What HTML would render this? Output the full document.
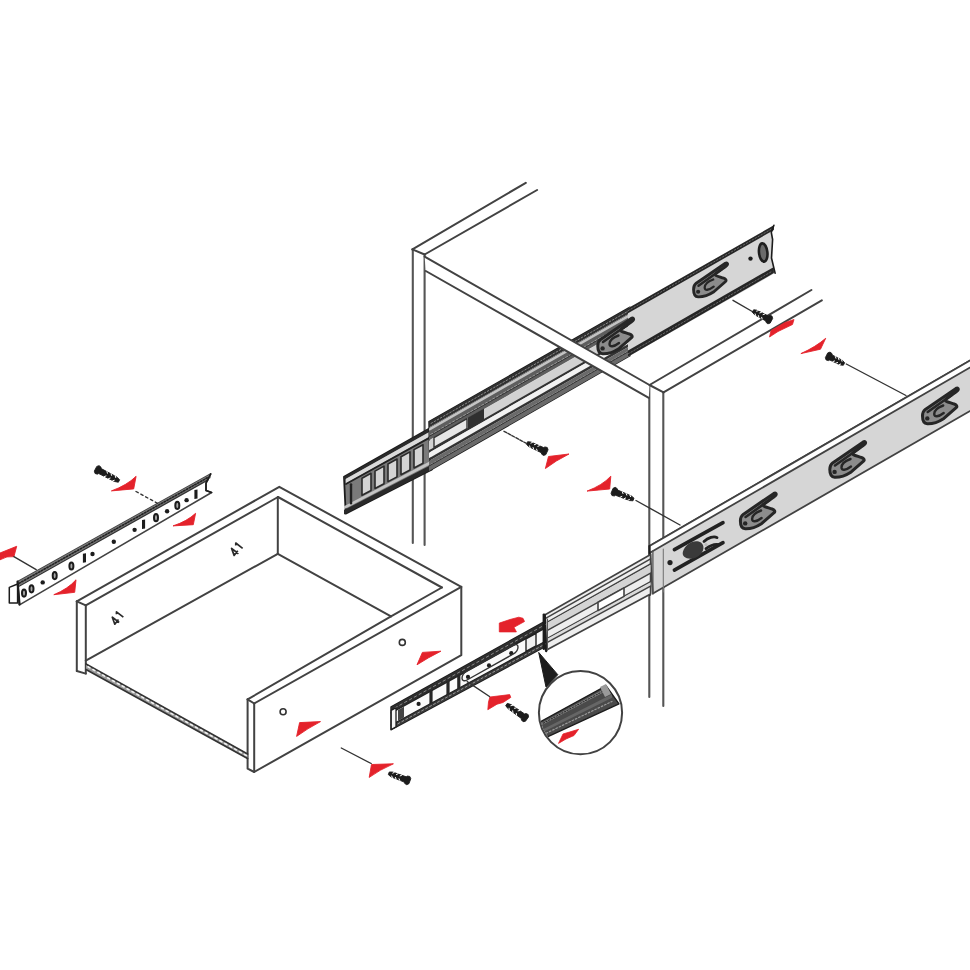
<!DOCTYPE html>
<html><head><meta charset="utf-8"><style>
html,body{margin:0;padding:0;background:#fff;}
svg{display:block;}
</style></head><body>
<svg width="970" height="970" viewBox="0 0 970 970">

<rect width="970" height="970" fill="#fff"/>
<g>
<line x1="412.8" y1="249.5" x2="412.8" y2="543" stroke="#555" stroke-width="2.1" stroke-linecap="round" />
<line x1="424.6" y1="254.5" x2="424.6" y2="545" stroke="#555" stroke-width="2.1" stroke-linecap="round" />
<line x1="412.4" y1="249.4" x2="525.8" y2="182.8" stroke="#424242" stroke-width="2.0" stroke-linecap="round" />
<line x1="424.6" y1="254.5" x2="537.1" y2="190" stroke="#424242" stroke-width="2.0" stroke-linecap="round" />
<line x1="412.4" y1="249.4" x2="424.6" y2="254.5" stroke="#424242" stroke-width="2.0" stroke-linecap="round" />
<line x1="649.3" y1="385" x2="649.3" y2="697" stroke="#555" stroke-width="2.1" stroke-linecap="round" />
<line x1="663.3" y1="392.4" x2="663.3" y2="706" stroke="#555" stroke-width="2.1" stroke-linecap="round" />
<line x1="649.5" y1="385" x2="811.4" y2="290" stroke="#424242" stroke-width="2.0" stroke-linecap="round" />
<line x1="663.5" y1="392.4" x2="821.8" y2="300.3" stroke="#424242" stroke-width="2.0" stroke-linecap="round" />
<polygon points="344,476.9 432,427 432,469.5 345.7,513.63" fill="#7a7a7a" stroke="#1c1c1c" stroke-width="1.8" stroke-linejoin="round" />
<polygon points="344,476.9 432,427 432,430.4 344,479.91" fill="#2a2a2a" stroke="none" stroke-width="1.2" stroke-linejoin="round" />
<polygon points="346,478.78 432,430.4 432,435.5 346,483.31" fill="#dadada" stroke="none" stroke-width="1.2" stroke-linejoin="round" />
<line x1="346" y1="484.06" x2="432" y2="436.35" stroke="#222" stroke-width="1.8" stroke-linecap="round" />
<polygon points="362,478.27 371,473.32 371,490.53 362,495.26" fill="#d4d4d4" stroke="#2a2a2a" stroke-width="1.6" stroke-linejoin="round" />
<polygon points="375,471.12 384,466.17 384,483.69 375,488.42" fill="#d4d4d4" stroke="#2a2a2a" stroke-width="1.6" stroke-linejoin="round" />
<polygon points="388,463.96 397,459.01 397,476.85 388,481.59" fill="#d4d4d4" stroke="#2a2a2a" stroke-width="1.6" stroke-linejoin="round" />
<polygon points="401,456.81 410,451.86 410,470.02 401,474.75" fill="#d4d4d4" stroke="#2a2a2a" stroke-width="1.6" stroke-linejoin="round" />
<polygon points="414,449.66 423,444.7 423,463.18 414,467.92" fill="#d4d4d4" stroke="#2a2a2a" stroke-width="1.6" stroke-linejoin="round" />
<polygon points="344,506.23 432,460.15 432,463.55 344,509.24" fill="#c4c4c4" stroke="none" stroke-width="1.2" stroke-linejoin="round" />
<polygon points="344,509.99 432,464.4 432,469.5 344,514.5" fill="#2a2a2a" stroke="none" stroke-width="1.2" stroke-linejoin="round" />
<line x1="351" y1="484.33" x2="351" y2="503.32" stroke="#222" stroke-width="2.4" stroke-linecap="round" />
<polygon points="429,421.6 630,307.2 630,355.67 430,470.43" fill="#e0e0e0" stroke="#1c1c1c" stroke-width="1.5" stroke-linejoin="round" />
<polygon points="429,421.6 630,307.2 630,313.02 429,427.53" fill="#303030" stroke="none" stroke-width="1.2" stroke-linejoin="round" />
<line x1="431" y1="423.43" x2="630" y2="310.11" stroke="#8a8a8a" stroke-width="1.0" stroke-linecap="round" stroke-dasharray="1.62,1.98" stroke-linecap="butt"/>
<polygon points="429,427.53 630,313.02 630,313.99 429,428.52" fill="#6a6a6a" stroke="none" stroke-width="1.2" stroke-linejoin="round" />
<polygon points="429,428.52 630,313.99 630,316.41 429,430.99" fill="#c4c4c4" stroke="none" stroke-width="1.2" stroke-linejoin="round" />
<polygon points="429,430.99 630,316.41 630,325.62 429,440.37" fill="#5e5e5e" stroke="none" stroke-width="1.2" stroke-linejoin="round" />
<line x1="431" y1="434.54" x2="630" y2="321.01" stroke="#a0a0a0" stroke-width="1.3" stroke-linecap="round" stroke-dasharray="1.89,2.31" stroke-linecap="butt"/>
<line x1="429" y1="436.42" x2="630" y2="321.74" stroke="#333" stroke-width="1.0" stroke-linecap="round" />
<polygon points="429,440.87 630,326.1 630,335.31 429,450.25" fill="#d2d2d2" stroke="none" stroke-width="1.2" stroke-linejoin="round" />
<polygon points="429,450.25 630,335.31 630,337.74 429,452.72" fill="#333" stroke="none" stroke-width="1.2" stroke-linejoin="round" />
<polygon points="429,452.72 630,337.74 630,343.07 429,458.16" fill="#f2f2f2" stroke="none" stroke-width="1.2" stroke-linejoin="round" />
<polygon points="429,458.16 630,343.07 630,345.97 429,461.12" fill="#333" stroke="none" stroke-width="1.2" stroke-linejoin="round" />
<polygon points="429,461.12 630,345.97 630,355.67 429,471" fill="#6a6a6a" stroke="none" stroke-width="1.2" stroke-linejoin="round" />
<line x1="431" y1="464.42" x2="630" y2="350.34" stroke="#9a9a9a" stroke-width="1.2" stroke-linecap="round" stroke-dasharray="1.8,2.2" stroke-linecap="butt"/>
<line x1="429" y1="466.06" x2="630" y2="350.82" stroke="#333" stroke-width="1.0" stroke-linecap="round" />
<polygon points="468,417.61 484,408.48 484,419.78 468,428.93" fill="#303030" stroke="none" stroke-width="1.5" stroke-linejoin="round" />
<polygon points="434,437.52 467,418.68 467,428.52 434,447.39" fill="#e6e6e6" stroke="#333" stroke-width="1.4" stroke-linejoin="round" />
<polygon points="628,308.34 773.9,225.3 771.3,232.4 772.6,239.5 771.5,258 775.1,273.1 628,356.82" fill="#d6d6d6" stroke="none" stroke-width="1.5" stroke-linejoin="round" />
<polygon points="628,308.34 773.9,225.3 773.9,230.08 628,313.19" fill="#262626" stroke="none" stroke-width="1.2" stroke-linejoin="round" />
<line x1="628" y1="310.76" x2="771.9" y2="228.83" stroke="#7a7a7a" stroke-width="0.8" stroke-linecap="round" stroke-dasharray="1.53,1.87" stroke-linecap="butt"/>
<polygon points="628,350.51 773.9,266.89 773.9,273.1 628,356.82" fill="#262626" stroke="none" stroke-width="1.2" stroke-linejoin="round" />
<line x1="628" y1="353.91" x2="771.9" y2="271.38" stroke="#7a7a7a" stroke-width="0.8" stroke-linecap="round" stroke-dasharray="1.53,1.87" stroke-linecap="butt"/>
<ellipse cx="763.2" cy="252.5" rx="4.2" ry="9.2" transform="rotate(-6 763.2 252.5)" fill="#6a6a6a" stroke="#1e1e1e" stroke-width="2.6"/>
<circle cx="750.5" cy="258.6" r="2.2" fill="#1c1c1c" stroke="none" stroke-width="0"/>
<polyline points="773.9,225.3 771.3,232.4 772.6,239.5 771.5,258 775.1,273.1" fill="none" stroke="#1c1c1c" stroke-width="1.6" stroke-linejoin="round" stroke-linecap="round" />
<g transform="translate(692.8,289.5) scale(0.95)"><path d="M0.8,0 C0.8,-3 1.8,-5.2 3.6,-6.6 L34.3,-27.6 C36,-28.6 37.4,-26.8 36.1,-25.7 L33.8,-23.6 L24.5,-17 C23,-16 23.5,-14.8 25.5,-14.2 C28,-13.5 30.5,-12.5 32.5,-12 C35,-11.3 35.8,-9.2 34.5,-8.4 L22.2,2.4 C16,6.4 10,8 5.6,7.8 C2.4,7.6 0.8,4.2 0.8,0 Z" fill="#8c8c8c" stroke="#262626" stroke-width="3" stroke-linejoin="round"/><path d="M6,-4 L30,-21" stroke="#262626" stroke-width="2.6" stroke-linecap="round"/><path d="M21.5,-10.5 C16,-8.5 12.5,-5.5 12.5,-2 C12.5,1.2 16.5,1.2 22,-3" fill="none" stroke="#262626" stroke-width="2.4" stroke-linecap="round"/><circle cx="5.6" cy="2.4" r="2.2" fill="#262626"/></g>
<g transform="translate(597,346) scale(1.0)"><path d="M0.8,0 C0.8,-3 1.8,-5.2 3.6,-6.6 L34.3,-27.6 C36,-28.6 37.4,-26.8 36.1,-25.7 L33.8,-23.6 L24.5,-17 C23,-16 23.5,-14.8 25.5,-14.2 C28,-13.5 30.5,-12.5 32.5,-12 C35,-11.3 35.8,-9.2 34.5,-8.4 L22.2,2.4 C16,6.4 10,8 5.6,7.8 C2.4,7.6 0.8,4.2 0.8,0 Z" fill="#8c8c8c" stroke="#262626" stroke-width="3" stroke-linejoin="round"/><path d="M6,-4 L30,-21" stroke="#262626" stroke-width="2.6" stroke-linecap="round"/><path d="M21.5,-10.5 C16,-8.5 12.5,-5.5 12.5,-2 C12.5,1.2 16.5,1.2 22,-3" fill="none" stroke="#262626" stroke-width="2.4" stroke-linecap="round"/><circle cx="5.6" cy="2.4" r="2.2" fill="#262626"/></g>
<polygon points="424.6,256.6 649.5,385 648.8,397.8 425.8,271" fill="#ffffff" stroke="none" stroke-width="1.5" stroke-linejoin="round" />
<line x1="424.6" y1="256.6" x2="649.5" y2="385" stroke="#424242" stroke-width="2.0" stroke-linecap="round" />
<line x1="425.8" y1="271" x2="648.8" y2="397.8" stroke="#424242" stroke-width="2.0" stroke-linecap="round" />
<line x1="649.5" y1="385" x2="663.5" y2="392.4" stroke="#424242" stroke-width="2.0" stroke-linecap="round" />
<polygon points="649.5,546 985,351.82 985,402.37 652.9,593.54" fill="#d6d6d6" stroke="#424242" stroke-width="1.8" stroke-linejoin="round" />
<polygon points="649.5,546 985,351.82 985,358.89 649.5,552.93" fill="#ffffff" stroke="#424242" stroke-width="1.8" stroke-linejoin="round" />
<line x1="649.5" y1="546" x2="649.8" y2="595" stroke="#1c1c1c" stroke-width="2.0" stroke-linecap="round" />
<line x1="652.9" y1="551" x2="652.9" y2="594" stroke="#555" stroke-width="1.3" stroke-linecap="round" />
<line x1="663.3" y1="549" x2="663.3" y2="592" stroke="#777" stroke-width="1.1" stroke-linecap="round" />
<g transform="translate(739.6,521) scale(1.0)"><path d="M0.8,0 C0.8,-3 1.8,-5.2 3.6,-6.6 L34.3,-27.6 C36,-28.6 37.4,-26.8 36.1,-25.7 L33.8,-23.6 L24.5,-17 C23,-16 23.5,-14.8 25.5,-14.2 C28,-13.5 30.5,-12.5 32.5,-12 C35,-11.3 35.8,-9.2 34.5,-8.4 L22.2,2.4 C16,6.4 10,8 5.6,7.8 C2.4,7.6 0.8,4.2 0.8,0 Z" fill="#8c8c8c" stroke="#262626" stroke-width="3" stroke-linejoin="round"/><path d="M6,-4 L30,-21" stroke="#262626" stroke-width="2.6" stroke-linecap="round"/><path d="M21.5,-10.5 C16,-8.5 12.5,-5.5 12.5,-2 C12.5,1.2 16.5,1.2 22,-3" fill="none" stroke="#262626" stroke-width="2.4" stroke-linecap="round"/><circle cx="5.6" cy="2.4" r="2.2" fill="#262626"/></g>
<g transform="translate(829,469.5) scale(1.0)"><path d="M0.8,0 C0.8,-3 1.8,-5.2 3.6,-6.6 L34.3,-27.6 C36,-28.6 37.4,-26.8 36.1,-25.7 L33.8,-23.6 L24.5,-17 C23,-16 23.5,-14.8 25.5,-14.2 C28,-13.5 30.5,-12.5 32.5,-12 C35,-11.3 35.8,-9.2 34.5,-8.4 L22.2,2.4 C16,6.4 10,8 5.6,7.8 C2.4,7.6 0.8,4.2 0.8,0 Z" fill="#8c8c8c" stroke="#262626" stroke-width="3" stroke-linejoin="round"/><path d="M6,-4 L30,-21" stroke="#262626" stroke-width="2.6" stroke-linecap="round"/><path d="M21.5,-10.5 C16,-8.5 12.5,-5.5 12.5,-2 C12.5,1.2 16.5,1.2 22,-3" fill="none" stroke="#262626" stroke-width="2.4" stroke-linecap="round"/><circle cx="5.6" cy="2.4" r="2.2" fill="#262626"/></g>
<g transform="translate(921.7,416) scale(1.0)"><path d="M0.8,0 C0.8,-3 1.8,-5.2 3.6,-6.6 L34.3,-27.6 C36,-28.6 37.4,-26.8 36.1,-25.7 L33.8,-23.6 L24.5,-17 C23,-16 23.5,-14.8 25.5,-14.2 C28,-13.5 30.5,-12.5 32.5,-12 C35,-11.3 35.8,-9.2 34.5,-8.4 L22.2,2.4 C16,6.4 10,8 5.6,7.8 C2.4,7.6 0.8,4.2 0.8,0 Z" fill="#8c8c8c" stroke="#262626" stroke-width="3" stroke-linejoin="round"/><path d="M6,-4 L30,-21" stroke="#262626" stroke-width="2.6" stroke-linecap="round"/><path d="M21.5,-10.5 C16,-8.5 12.5,-5.5 12.5,-2 C12.5,1.2 16.5,1.2 22,-3" fill="none" stroke="#262626" stroke-width="2.4" stroke-linecap="round"/><circle cx="5.6" cy="2.4" r="2.2" fill="#262626"/></g>
<g transform="translate(670,562.6) scale(1.0)"><path d="M4.4,-13 L53,-40" stroke="#222" stroke-width="3.6" stroke-linecap="round" fill="none"/><path d="M4.4,7.5 L53,-20" stroke="#222" stroke-width="3.6" stroke-linecap="round" fill="none"/><path d="M13,-11 C15,-19 25,-24 31,-20 C36,-16 33,-8 26,-5 C19,-2 11,-5 13,-11 Z" fill="#3a3a3a"/><path d="M34,-21 C38,-25 44,-27 47,-25 M36,-14 C40,-17 45,-19 49,-18" stroke="#222" stroke-width="2.8" stroke-linecap="round" fill="none"/><circle cx="0" cy="0" r="2.6" fill="#222"/><circle cx="36" cy="-18" r="1.6" fill="#bbb"/></g>
<polygon points="544.7,615 650.6,554.5 650.6,594 546.1,650.25" fill="#eeeeee" stroke="#424242" stroke-width="1.7" stroke-linejoin="round" />
<line x1="544.7" y1="618.96" x2="650.6" y2="558.85" stroke="#424242" stroke-width="1.5" stroke-linecap="round" />
<line x1="547.4" y1="622.12" x2="650.6" y2="563.98" stroke="#424242" stroke-width="1.5" stroke-linecap="round" />
<polygon points="547.4,622.84 650.6,564.77 650.6,572.67 547.4,630.06" fill="#d4d4d4" stroke="none" stroke-width="1.2" stroke-linejoin="round" />
<line x1="547.4" y1="630.42" x2="650.6" y2="573.07" stroke="#424242" stroke-width="1.5" stroke-linecap="round" />
<line x1="547.4" y1="638.36" x2="650.6" y2="581.75" stroke="#424242" stroke-width="1.5" stroke-linecap="round" />
<polygon points="547.4,638.72 650.6,582.15 650.6,585.71 547.4,641.97" fill="#dadada" stroke="none" stroke-width="1.2" stroke-linejoin="round" />
<line x1="547.4" y1="642.33" x2="650.6" y2="586.1" stroke="#424242" stroke-width="1.5" stroke-linecap="round" />
<polygon points="598,602.3 624,587.85 624,596.34 598,610.61" fill="#fff" stroke="#424242" stroke-width="1.6" stroke-linejoin="round" />
<line x1="544.7" y1="615" x2="546.1" y2="651" stroke="#1c1c1c" stroke-width="2.4" stroke-linecap="round" />
<line x1="547.4" y1="619" x2="547.4" y2="650" stroke="#555" stroke-width="1.2" stroke-linecap="round" />
<polygon points="391.2,707 545,621.5 545,646.5 391.2,729.5" fill="#fafafa" stroke="#1c1c1c" stroke-width="1.8" stroke-linejoin="round" />
<polygon points="391.2,707 545,621.5 545,628 391.2,712.85" fill="#2e2e2e" stroke="none" stroke-width="1.2" stroke-linejoin="round" />
<line x1="395" y1="707.82" x2="545" y2="624.75" stroke="#8a8a8a" stroke-width="1.0" stroke-linecap="round" stroke-dasharray="2.48,3.02" stroke-linecap="butt"/>
<line x1="391.2" y1="712.85" x2="545" y2="628" stroke="#222" stroke-width="1.5" stroke-linecap="round" />
<polygon points="391.2,725 545,641.5 545,646.5 391.2,729.5" fill="#3a3a3a" stroke="none" stroke-width="1.2" stroke-linejoin="round" />
<line x1="394" y1="725.85" x2="545" y2="644.12" stroke="#999" stroke-width="1.0" stroke-linecap="round" stroke-dasharray="2.02,2.48" stroke-linecap="butt"/>
<line x1="391.2" y1="725" x2="545" y2="641.5" stroke="#222" stroke-width="1.4" stroke-linecap="round" />
<polygon points="429.4,691.54 432.6,689.78 432.6,702.99 429.4,704.72" fill="#262626" stroke="none" stroke-width="1.5" stroke-linejoin="round" />
<polygon points="446.4,682.16 449.6,680.4 449.6,693.76 446.4,695.5" fill="#262626" stroke="none" stroke-width="1.5" stroke-linejoin="round" />
<polygon points="457.2,676.2 460.4,674.44 460.4,687.9 457.2,689.64" fill="#262626" stroke="none" stroke-width="1.5" stroke-linejoin="round" />
<circle cx="418.6" cy="703.93" r="2.1" fill="#1c1c1c" stroke="none" stroke-width="0"/>
<circle cx="468" cy="676.89" r="2.1" fill="#1c1c1c" stroke="none" stroke-width="0"/>
<circle cx="489" cy="665.4" r="2.1" fill="#1c1c1c" stroke="none" stroke-width="0"/>
<circle cx="511.3" cy="653.19" r="2.1" fill="#1c1c1c" stroke="none" stroke-width="0"/>
<g transform="matrix(1,-0.56,0,1,0,0)"><rect x="462" y="932.52" width="56" height="8.99" rx="5" fill="none" stroke="#333" stroke-width="1.4" vector-effect="non-scaling-stroke"/></g>
<polygon points="391.2,710.38 396,707.72 396,726.91 391.2,729.5" fill="#f4f4f4" stroke="#1c1c1c" stroke-width="1.3" stroke-linejoin="round" />
<polygon points="398,710 404,706.7 404,717.6 398,720.86" fill="#444" stroke="none" stroke-width="1.5" stroke-linejoin="round" />
<polygon points="526,638.98 536,633.46 536,645.89 526,651.32" fill="#f0f0f0" stroke="#222" stroke-width="1.4" stroke-linejoin="round" />
<line x1="543.8" y1="614.6" x2="543.8" y2="648.7" stroke="#1c1c1c" stroke-width="2.4" stroke-linecap="round" />
<polygon points="538.7,652.4 557.8,674.7 546,687" fill="#1c1c1c" stroke="#1c1c1c" stroke-width="1" stroke-linejoin="round" />
<circle cx="580.5" cy="712.7" r="41.6" fill="#fff" stroke="#424242" stroke-width="2.0"/>
<clipPath id="mc"><circle cx="580.5" cy="712.7" r="40.6"/></clipPath>
<g clip-path="url(#mc)">
<polygon points="530,727.5 606,685.78 619,703.8 530,745" fill="#4a4a4a" stroke="#1c1c1c" stroke-width="1.4" stroke-linejoin="round" />
<polygon points="530,729.25 604,689.26 604,692.11 530,731.35" fill="#8a8a8a" stroke="none" stroke-width="1.2" stroke-linejoin="round" />
<line x1="530" y1="730.3" x2="604" y2="690.68" stroke="#2a2a2a" stroke-width="1.05" stroke-linecap="round" stroke-dasharray="1.35,1.65" stroke-linecap="butt"/>
<polygon points="530,735.9 612,694.21 612,697.63 530,738.35" fill="#666" stroke="none" stroke-width="1.2" stroke-linejoin="round" />
<line x1="530" y1="741.06" x2="612" y2="701.42" stroke="#9a9a9a" stroke-width="1.2" stroke-linecap="round" stroke-dasharray="1.62,1.98" stroke-linecap="butt"/>
<polygon points="600,687 606,684 611,694 605,697" fill="#9a9a9a" stroke="none" stroke-width="1.5" stroke-linejoin="round" />
<polygon points="558.5,743.4 563,734 578.6,729.3 574,735.5 566,739" fill="#e4222b" stroke="#e4222b" stroke-width="0.8" stroke-linejoin="round" />
</g>
<polyline points="76.8,601.4 279.3,486.8 461.3,586.8 461.3,655.2 254.2,772 247.6,768.7 247.6,699.4" fill="none" stroke="#424242" stroke-width="2.0" stroke-linejoin="round" stroke-linecap="round" />
<line x1="76.8" y1="601.4" x2="85.8" y2="605.3" stroke="#424242" stroke-width="2.0" stroke-linecap="round" />
<line x1="85.8" y1="605.3" x2="278" y2="497" stroke="#424242" stroke-width="2.0" stroke-linecap="round" />
<line x1="278" y1="497" x2="441.9" y2="587.5" stroke="#424242" stroke-width="2.0" stroke-linecap="round" />
<line x1="441.9" y1="587.5" x2="391" y2="616.3" stroke="#424242" stroke-width="2.0" stroke-linecap="round" />
<line x1="391" y1="616.3" x2="247.6" y2="699.4" stroke="#424242" stroke-width="2.0" stroke-linecap="round" />
<line x1="247.6" y1="699.4" x2="254.2" y2="703.5" stroke="#424242" stroke-width="2.0" stroke-linecap="round" />
<line x1="254.2" y1="703.5" x2="461.3" y2="586.8" stroke="#424242" stroke-width="2.0" stroke-linecap="round" />
<line x1="254.2" y1="703.5" x2="254.2" y2="772" stroke="#424242" stroke-width="2.0" stroke-linecap="round" />
<line x1="277.8" y1="497" x2="277.8" y2="553.8" stroke="#424242" stroke-width="2.0" stroke-linecap="round" />
<line x1="277.8" y1="553.8" x2="391" y2="616.3" stroke="#424242" stroke-width="2.0" stroke-linecap="round" />
<line x1="85.8" y1="660.7" x2="277.8" y2="553.8" stroke="#424242" stroke-width="2.0" stroke-linecap="round" />
<line x1="76.8" y1="601.4" x2="76.8" y2="671" stroke="#424242" stroke-width="2.0" stroke-linecap="round" />
<line x1="85.8" y1="605.3" x2="85.8" y2="673.6" stroke="#424242" stroke-width="2.0" stroke-linecap="round" />
<line x1="76.8" y1="671" x2="85.8" y2="673.6" stroke="#424242" stroke-width="2.0" stroke-linecap="round" />
<polygon points="86,664 247.6,754 247.6,758.5 86,669.5" fill="#9a9a9a" stroke="none" stroke-width="1.5" stroke-linejoin="round" />
<line x1="86" y1="664" x2="247.6" y2="754" stroke="#333" stroke-width="1.7" stroke-linecap="round" />
<line x1="86" y1="669.5" x2="247.6" y2="758.5" stroke="#333" stroke-width="1.7" stroke-linecap="round" />
<line x1="88" y1="666.8" x2="247.6" y2="756.2" stroke="#f0f0f0" stroke-width="1.6" stroke-linecap="round" stroke-dasharray="2.2,3.4"/>
<circle cx="283.1" cy="711.8" r="3" fill="none" stroke="#333" stroke-width="1.6"/>
<circle cx="402.3" cy="642.4" r="3" fill="none" stroke="#333" stroke-width="1.6"/>
<g transform="translate(117.2,618.2) rotate(-52)"><path d="M-2.2,4.2 L-2.2,-4.5 L-6.2,1.8 L-0.2,1.8 M2.6,-3 L4.6,-4.5 L4.6,4.2" fill="none" stroke="#2a2a2a" stroke-width="1.7" stroke-linejoin="round"/></g>
<g transform="translate(236.5,549.4) rotate(-52)"><path d="M-2.2,4.2 L-2.2,-4.5 L-6.2,1.8 L-0.2,1.8 M2.6,-3 L4.6,-4.5 L4.6,4.2" fill="none" stroke="#2a2a2a" stroke-width="1.7" stroke-linejoin="round"/></g>
<polygon points="17.6,581.7 210.7,473.9 206,483.2 206,490.6 211.6,492.5 19.5,604.9" fill="#ffffff" stroke="#424242" stroke-width="1.6" stroke-linejoin="round" />
<polygon points="17.6,581.7 210.7,473.9 210.7,477.92 17.6,586.56" fill="#7a7a7a" stroke="none" stroke-width="1.2" stroke-linejoin="round" />
<line x1="19" y1="583.35" x2="208" y2="477.42" stroke="#222" stroke-width="1.6" stroke-linecap="round" stroke-dasharray="1.44,1.76" stroke-linecap="butt"/>
<line x1="19" y1="586.26" x2="208" y2="479.84" stroke="#333" stroke-width="1.4" stroke-linecap="round" />
<polyline points="210.7,473.9 206,483.2 206,490.6 211.6,492.5" fill="none" stroke="#1c1c1c" stroke-width="1.6" stroke-linejoin="round" stroke-linecap="round" />
<polygon points="9.3,587.4 17.6,584 17.6,603 9.3,603.1" fill="#fff" stroke="#1c1c1c" stroke-width="1.5" stroke-linejoin="round" />
<line x1="17.6" y1="581.7" x2="19.5" y2="604.5" stroke="#1c1c1c" stroke-width="2.2" stroke-linecap="round" />
<ellipse cx="24" cy="593.11" rx="2" ry="3.6" transform="rotate(0 24 593.11)" fill="#aaa" stroke="#1c1c1c" stroke-width="2.0"/>
<ellipse cx="31.5" cy="588.82" rx="2" ry="3.6" transform="rotate(0 31.5 588.82)" fill="#aaa" stroke="#1c1c1c" stroke-width="2.0"/>
<circle cx="42.7" cy="582.42" r="2.2" fill="#1c1c1c" stroke="none" stroke-width="0"/>
<ellipse cx="54.7" cy="575.55" rx="2" ry="3.6" transform="rotate(0 54.7 575.55)" fill="#aaa" stroke="#1c1c1c" stroke-width="2.0"/>
<ellipse cx="71.4" cy="566.01" rx="2" ry="3.6" transform="rotate(0 71.4 566.01)" fill="#aaa" stroke="#1c1c1c" stroke-width="2.0"/>
<polygon points="82.9,553.77 86,553.27 86,562.37 82.9,562.87" fill="#1c1c1c" stroke="none" stroke-width="1.5" stroke-linejoin="round" />
<circle cx="92.5" cy="553.94" r="2.2" fill="#1c1c1c" stroke="none" stroke-width="0"/>
<circle cx="113.8" cy="541.76" r="2.2" fill="#1c1c1c" stroke="none" stroke-width="0"/>
<circle cx="134.6" cy="529.87" r="2.2" fill="#1c1c1c" stroke="none" stroke-width="0"/>
<polygon points="142,519.98 145.1,519.48 145.1,528.58 142,529.08" fill="#1c1c1c" stroke="none" stroke-width="1.5" stroke-linejoin="round" />
<ellipse cx="156" cy="517.64" rx="2" ry="3.6" transform="rotate(0 156 517.64)" fill="#aaa" stroke="#1c1c1c" stroke-width="2.0"/>
<circle cx="167.1" cy="511.29" r="2.2" fill="#1c1c1c" stroke="none" stroke-width="0"/>
<ellipse cx="177.3" cy="505.46" rx="2" ry="3.6" transform="rotate(0 177.3 505.46)" fill="#aaa" stroke="#1c1c1c" stroke-width="2.0"/>
<circle cx="186.6" cy="500.14" r="2.2" fill="#1c1c1c" stroke="none" stroke-width="0"/>
<polygon points="194.4,490.02 197.5,489.52 197.5,498.62 194.4,499.12" fill="#1c1c1c" stroke="none" stroke-width="1.5" stroke-linejoin="round" />
<line x1="733" y1="300.3" x2="754" y2="312.5" stroke="#333" stroke-width="1.4" stroke-linecap="round" />
<polygon points="770.21,323.07 767.89,323.83 766.06,322.37 765.71,320.88 754.52,314.65 752.35,312.24 753.65,309.76 756.88,310.2 768.33,315.92 769.75,315.36 771.99,316.05 772.67,318.4" fill="#1c1c1c" stroke="#1c1c1c" stroke-width="0.9" stroke-linejoin="round" />
<line x1="762.13" y1="318.99" x2="761.66" y2="317.31" stroke="#ffffff" stroke-width="1.0" stroke-linecap="round" />
<line x1="764.75" y1="314.03" x2="763.1" y2="314.59" stroke="#ffffff" stroke-width="1.0" stroke-linecap="round" />
<line x1="758.89" y1="317.28" x2="758.42" y2="315.6" stroke="#ffffff" stroke-width="1.0" stroke-linecap="round" />
<line x1="761.51" y1="312.32" x2="759.86" y2="312.88" stroke="#ffffff" stroke-width="1.0" stroke-linecap="round" />
<line x1="755.65" y1="315.57" x2="755.18" y2="313.89" stroke="#ffffff" stroke-width="1.0" stroke-linecap="round" />
<line x1="758.27" y1="310.61" x2="756.62" y2="311.17" stroke="#ffffff" stroke-width="1.0" stroke-linecap="round" />
<polygon points="769.5,337 771,330.5 785,322.5 794,319.5 792.5,324.5 778,331.5" fill="#e4222b" stroke="#e4222b" stroke-width="0.8" stroke-linejoin="round" />
<path d="M800.9,353.6 L820.5,349.2 L825.7,338.3 Q815.6,346.99 800.9,353.6 Z" fill="#e4222b" stroke="#e4222b" stroke-width="0.9" stroke-linejoin="round"/>
<polygon points="827.73,352.92 830.04,352.1 831.9,353.52 832.28,355.01 842.58,360.47 844.63,362.75 843.37,365.25 840.32,364.98 829.77,360.02 828.36,360.61 826.11,359.97 825.37,357.64" fill="#1c1c1c" stroke="#1c1c1c" stroke-width="0.9" stroke-linejoin="round" />
<line x1="835.39" y1="356.57" x2="835.9" y2="358.23" stroke="#ffffff" stroke-width="1.0" stroke-linecap="round" />
<line x1="832.89" y1="361.57" x2="834.52" y2="360.98" stroke="#ffffff" stroke-width="1.0" stroke-linecap="round" />
<line x1="838.45" y1="358.1" x2="838.96" y2="359.76" stroke="#ffffff" stroke-width="1.0" stroke-linecap="round" />
<line x1="835.95" y1="363.1" x2="837.58" y2="362.51" stroke="#ffffff" stroke-width="1.0" stroke-linecap="round" />
<line x1="841.51" y1="359.63" x2="842.02" y2="361.29" stroke="#ffffff" stroke-width="1.0" stroke-linecap="round" />
<line x1="839.01" y1="364.63" x2="840.64" y2="364.04" stroke="#ffffff" stroke-width="1.0" stroke-linecap="round" />
<line x1="846.3" y1="364" x2="906" y2="395.5" stroke="#333" stroke-width="1.4" stroke-linecap="round" />
<line x1="504" y1="431.3" x2="526" y2="443.2" stroke="#333" stroke-width="1.4" stroke-linecap="round" stroke-dasharray="3,1.5"/>
<polygon points="545.85,454.61 543.57,455.49 541.66,454.13 541.24,452.66 528.87,446.64 526.41,444.27 527.59,441.73 530.98,442.06 543.59,447.57 544.98,446.94 547.25,447.5 548.06,449.81" fill="#1c1c1c" stroke="#1c1c1c" stroke-width="0.9" stroke-linejoin="round" />
<line x1="537.14" y1="450.76" x2="536.58" y2="449.12" stroke="#ffffff" stroke-width="1.0" stroke-linecap="round" />
<line x1="539.48" y1="445.68" x2="537.87" y2="446.32" stroke="#ffffff" stroke-width="1.0" stroke-linecap="round" />
<line x1="533.63" y1="449.14" x2="533.07" y2="447.5" stroke="#ffffff" stroke-width="1.0" stroke-linecap="round" />
<line x1="535.97" y1="444.06" x2="534.36" y2="444.7" stroke="#ffffff" stroke-width="1.0" stroke-linecap="round" />
<line x1="530.12" y1="447.52" x2="529.56" y2="445.88" stroke="#ffffff" stroke-width="1.0" stroke-linecap="round" />
<line x1="532.46" y1="442.44" x2="530.85" y2="443.08" stroke="#ffffff" stroke-width="1.0" stroke-linecap="round" />
<path d="M545.4,468.5 L548.5,456.5 L569,454 Q555.89,460.54 545.4,468.5 Z" fill="#e4222b" stroke="#e4222b" stroke-width="0.9" stroke-linejoin="round"/>
<path d="M587,491.1 L609.7,489 L610.8,476.2 Q602.36,485.36 587,491.1 Z" fill="#e4222b" stroke="#e4222b" stroke-width="0.9" stroke-linejoin="round"/>
<polygon points="613.03,488.37 615.26,487.37 617.23,488.64 617.72,490.09 631.3,495.89 634.03,498.2 632.97,500.8 629.4,500.56 615.62,495.28 614.26,495.98 611.96,495.53 611.05,493.26" fill="#1c1c1c" stroke="#1c1c1c" stroke-width="0.9" stroke-linejoin="round" />
<line x1="622.37" y1="491.97" x2="623.01" y2="493.59" stroke="#ffffff" stroke-width="1.0" stroke-linecap="round" />
<line x1="620.27" y1="497.17" x2="621.85" y2="496.45" stroke="#ffffff" stroke-width="1.0" stroke-linecap="round" />
<line x1="626.15" y1="493.5" x2="626.79" y2="495.12" stroke="#ffffff" stroke-width="1.0" stroke-linecap="round" />
<line x1="624.05" y1="498.7" x2="625.63" y2="497.98" stroke="#ffffff" stroke-width="1.0" stroke-linecap="round" />
<line x1="629.93" y1="495.03" x2="630.57" y2="496.65" stroke="#ffffff" stroke-width="1.0" stroke-linecap="round" />
<line x1="627.83" y1="500.23" x2="629.41" y2="499.51" stroke="#ffffff" stroke-width="1.0" stroke-linecap="round" />
<line x1="636" y1="500.5" x2="680" y2="525" stroke="#333" stroke-width="1.4" stroke-linecap="round" />
<polygon points="499.3,623.1 510,619.5 518.8,617.2 523,618.3 524.5,621.5 514,627.3 516.4,631.9 499.3,631.9" fill="#e4222b" stroke="#e4222b" stroke-width="0.8" stroke-linejoin="round" />
<polygon points="489.9,697 509.7,694.6 510.8,697.4 503,702.5 497,704.2 487.8,709.7 488.5,702" fill="#e4222b" stroke="#e4222b" stroke-width="0.8" stroke-linejoin="round" />
<line x1="467.2" y1="681.6" x2="489.5" y2="696.5" stroke="#333" stroke-width="1.4" stroke-linecap="round" />
<polygon points="525.48,721.24 523.07,721.69 521.45,720 521.31,718.47 508.05,708.7 505.69,705.64 507.31,703.36 510.98,704.59 524.56,713.91 526.04,713.54 528.17,714.52 528.54,716.94" fill="#1c1c1c" stroke="#1c1c1c" stroke-width="0.9" stroke-linejoin="round" />
<line x1="516.53" y1="715.08" x2="516.29" y2="713.35" stroke="#ffffff" stroke-width="1.0" stroke-linecap="round" />
<line x1="519.78" y1="710.51" x2="518.07" y2="710.84" stroke="#ffffff" stroke-width="1.0" stroke-linecap="round" />
<line x1="512.92" y1="712.5" x2="512.67" y2="710.78" stroke="#ffffff" stroke-width="1.0" stroke-linecap="round" />
<line x1="516.16" y1="707.94" x2="514.45" y2="708.27" stroke="#ffffff" stroke-width="1.0" stroke-linecap="round" />
<line x1="509.3" y1="709.93" x2="509.05" y2="708.21" stroke="#ffffff" stroke-width="1.0" stroke-linecap="round" />
<line x1="512.55" y1="705.36" x2="510.84" y2="705.7" stroke="#ffffff" stroke-width="1.0" stroke-linecap="round" />
<line x1="341.3" y1="748" x2="371.2" y2="763.5" stroke="#333" stroke-width="1.4" stroke-linecap="round" />
<path d="M369.2,777.4 L371.5,764.5 L393.4,763.8 Q379.83,769.68 369.2,777.4 Z" fill="#e4222b" stroke="#e4222b" stroke-width="0.9" stroke-linejoin="round"/>
<polygon points="408.94,783.65 406.74,784.7 404.74,783.48 404.2,782.05 391.01,776.82 388.31,774.61 389.29,771.99 392.77,772.09 406.17,776.8 407.51,776.07 409.82,776.46 410.79,778.7" fill="#1c1c1c" stroke="#1c1c1c" stroke-width="0.9" stroke-linejoin="round" />
<line x1="399.77" y1="780.39" x2="399.08" y2="778.79" stroke="#ffffff" stroke-width="1.0" stroke-linecap="round" />
<line x1="401.73" y1="775.14" x2="400.16" y2="775.9" stroke="#ffffff" stroke-width="1.0" stroke-linecap="round" />
<line x1="396.06" y1="779" x2="395.38" y2="777.4" stroke="#ffffff" stroke-width="1.0" stroke-linecap="round" />
<line x1="398.02" y1="773.76" x2="396.46" y2="774.52" stroke="#ffffff" stroke-width="1.0" stroke-linecap="round" />
<line x1="392.35" y1="777.62" x2="391.67" y2="776.02" stroke="#ffffff" stroke-width="1.0" stroke-linecap="round" />
<line x1="394.31" y1="772.37" x2="392.75" y2="773.13" stroke="#ffffff" stroke-width="1.0" stroke-linecap="round" />
<path d="M296.6,736.4 L299.6,722.6 L320.5,721.6 Q307.66,728.36 296.6,736.4 Z" fill="#e4222b" stroke="#e4222b" stroke-width="0.9" stroke-linejoin="round"/>
<path d="M417,664.8 L422.4,652.4 L440.9,651.2 Q428.29,657.44 417,664.8 Z" fill="#e4222b" stroke="#e4222b" stroke-width="0.9" stroke-linejoin="round"/>
<polygon points="96.78,466.43 99.1,465.65 100.93,467.11 101.28,468.6 116.72,476.97 119.65,479.76 118.35,482.24 114.38,481.43 98.69,473.56 97.27,474.13 95.03,473.46 94.34,471.11" fill="#1c1c1c" stroke="#1c1c1c" stroke-width="0.9" stroke-linejoin="round" />
<line x1="106.96" y1="471.56" x2="107.44" y2="473.23" stroke="#ffffff" stroke-width="1.0" stroke-linecap="round" />
<line x1="104.36" y1="476.52" x2="106.01" y2="475.96" stroke="#ffffff" stroke-width="1.0" stroke-linecap="round" />
<line x1="111.1" y1="473.72" x2="111.58" y2="475.39" stroke="#ffffff" stroke-width="1.0" stroke-linecap="round" />
<line x1="108.5" y1="478.68" x2="110.15" y2="478.12" stroke="#ffffff" stroke-width="1.0" stroke-linecap="round" />
<line x1="115.24" y1="475.88" x2="115.72" y2="477.55" stroke="#ffffff" stroke-width="1.0" stroke-linecap="round" />
<line x1="112.64" y1="480.84" x2="114.29" y2="480.28" stroke="#ffffff" stroke-width="1.0" stroke-linecap="round" />
<path d="M111.4,490.9 L133.7,488.9 L136.1,476.3 Q126.93,485.3 111.4,490.9 Z" fill="#e4222b" stroke="#e4222b" stroke-width="0.9" stroke-linejoin="round"/>
<line x1="136" y1="491.5" x2="157.7" y2="503.4" stroke="#333" stroke-width="1.4" stroke-linecap="round" stroke-dasharray="2.5,3"/>
<path d="M173,525.9 L193.3,524.7 L195.6,513.3 Q187.18,521.23 173,525.9 Z" fill="#e4222b" stroke="#e4222b" stroke-width="0.9" stroke-linejoin="round"/>
<path d="M0,553 L16.7,546.3 L13.9,556.7 Q7,555.5 0,559.8 Z" fill="#e4222b" stroke="#e4222b" stroke-width="0.9"/>
<line x1="13.9" y1="556.7" x2="36.2" y2="569.7" stroke="#333" stroke-width="1.4" stroke-linecap="round" />
<path d="M53.8,594.7 L74.7,592.3 L76,579.8 Q68.04,588.87 53.8,594.7 Z" fill="#e4222b" stroke="#e4222b" stroke-width="0.9" stroke-linejoin="round"/>
</g>
</svg></body></html>
